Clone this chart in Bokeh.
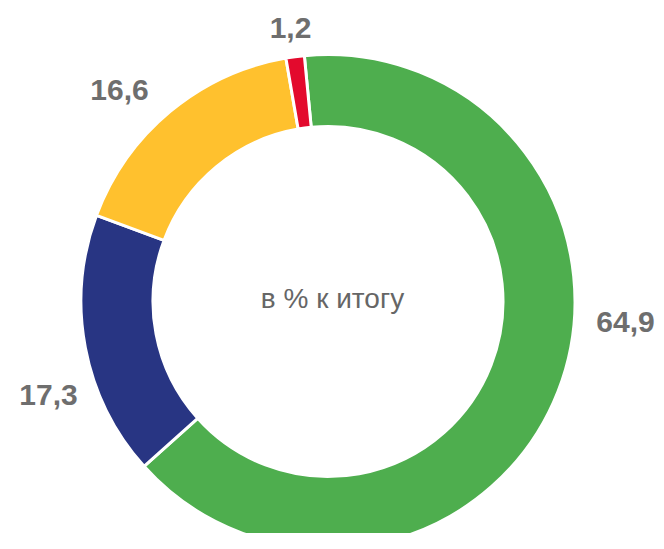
from bokeh.plotting import figure
from bokeh.models import Range1d, ColumnDataSource
from bokeh.core.properties import value
from bokeh.embed import file_html
from bokeh.resources import INLINE
import math

# data
categories = ["green", "blue", "yellow", "red"]
shares = [64.9, 17.3, 16.6, 1.2]
labels = ["64,9", "17,3", "16,6", "1,2"]
colors = ["#4EAE4E", "#283583", "#FFC12E", "#E30A2D"]
center_text = "в % к итогу"

W, H = 656, 533
p = figure(width=W, height=H, output_backend="svg", toolbar_location=None,
           x_range=Range1d(0, W), y_range=Range1d(549 - H, 549),
           min_border=0, outline_line_color=None)
p.axis.visible = False
p.grid.visible = False

cx, cy = 327.5, 549 - 301
start0 = 95.5
starts, ends = [], []
cum = 0.0
total = sum(shares)
for v in shares:
    starts.append(math.radians(start0 - cum / total * 360))
    cum += v
    ends.append(math.radians(start0 - cum / total * 360))

src = ColumnDataSource(dict(start=starts, end=ends, color=colors))
p.annular_wedge(x=cx, y=cy, inner_radius=175, outer_radius=247,
                start_angle="start", end_angle="end", direction="clock",
                fill_color="color", line_color="white", line_width=3, source=src)

lx = [625, 48, 119, 290]
ly = [549 - 321.5, 549 - 394, 549 - 89.5, 549 - 27.5]
p.text(x=lx, y=ly, text=labels, text_font=value("Liberation Sans"),
       text_font_style="bold", text_font_size="30px", text_color="#6E6E6E",
       text_align="center", text_baseline="middle")

p.text(x=[332], y=[549 - 298], text=[center_text], text_font=value("Liberation Sans"),
       text_font_size="28px", text_color="#666666",
       text_align="center", text_baseline="middle")

open("out.html", "w").write(file_html(p, INLINE))
